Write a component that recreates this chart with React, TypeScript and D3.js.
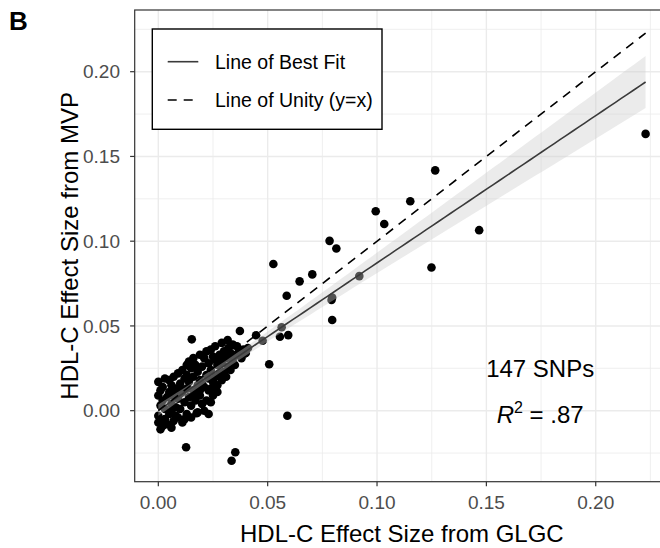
import React from "react";
import * as d3 from "d3";

// ---------- data ----------
// HDL-C effect size from GLGC (x) and MVP (y), one entry per SNP (147 SNPs)
const glgcEffect: number[] = [
  // scattered SNPs
  0.1266, 0.2228, 0.0994, 0.1152, 0.1033, 0.1467, 0.1249, 0.0919, 0.0783, 0.0814, 0.0704,
  0.0646, 0.0587, 0.0792, 0.0795, 0.0795, 0.0594, 0.0556, 0.0564, 0.0526, 0.0373, 0.0447,
  0.0477, 0.0507, 0.059, 0.023, 0.0127, 0.0352, 0.0335, 0.0153, 0.0317, 0.0343, 0.0396,
  // dense cluster
  0.0, 0.0, 0.0, 0.001, 0.001, 0.002, 0.0, 0.002, 0.003, 0.001, 0.003, 0.002,
  0.004, 0.005, 0.005, 0.006, 0.006, 0.007, 0.007, 0.008, 0.004, 0.005, 0.008, 0.006, 0.007, 0.008,
  0.009, 0.009, 0.01, 0.01, 0.011, 0.011, 0.012, 0.012, 0.013, 0.013, 0.01, 0.011, 0.012, 0.013, 0.009,
  0.014, 0.014, 0.015, 0.015, 0.016, 0.016, 0.017, 0.017, 0.018, 0.018, 0.014, 0.015, 0.016, 0.017, 0.018, 0.0175,
  0.019, 0.019, 0.02, 0.02, 0.021, 0.021, 0.022, 0.022, 0.023, 0.023, 0.019, 0.02, 0.022, 0.021, 0.023,
  0.024, 0.024, 0.025, 0.025, 0.026, 0.026, 0.027, 0.027, 0.028, 0.028, 0.024, 0.025, 0.027,
  0.029, 0.029, 0.03, 0.03, 0.031, 0.031, 0.032, 0.033, 0.033, 0.034, 0.029, 0.032,
  0.035, 0.036, 0.037, 0.038, 0.039, 0.04, 0.036, 0.041,
  0.003, 0.006, 0.01, 0.013, 0.019, 0.024, 0.028, 0.034, 0.026,
];

const mvpEffect: number[] = [
  0.1418, 0.1633, 0.1177, 0.1236, 0.1101, 0.1065, 0.0845, 0.0794, 0.1002, 0.0957, 0.0804,
  0.0763, 0.0678, 0.0653, 0.0668, 0.0535, 0.0446, 0.0436, 0.0492, 0.0865, 0.047, 0.0445,
  0.0413, 0.0274, -0.003, -0.002, -0.0216, -0.0245, -0.0295, 0.0421, 0.0417, 0.0386, 0.0338,
  0.017, 0.009, -0.007, -0.011, 0.003, 0.006, -0.003, -0.009, 0.001, 0.012, -0.005, 0.014,
  0.008, 0.011, -0.002, 0.004, 0.015, -0.006, 0.009, 0.002, -0.008, 0.018, 0.013, -0.01, 0.02, -0.003,
  0.007, 0.022, 0.016, 0.001, -0.007, 0.011, 0.019, 0.005, 0.013, -0.002, 0.01, 0.024, -0.005, 0.021, -0.004,
  0.008, 0.017, 0.025, 0.003, 0.012, 0.02, 0.027, 0.006, 0.015, -0.001, 0.029, -0.004, 0.031, 0.01, 0.023, -0.0015,
  0.009, 0.018, 0.026, 0.004, 0.014, 0.031, 0.021, 0.006, 0.028, 0.012, 0.033, 0.016, 0.035, 0.0, 0.019,
  0.024, 0.013, 0.032, 0.009, 0.02, 0.038, 0.027, 0.015, 0.033, 0.022, 0.036, 0.017, 0.011,
  0.028, 0.018, 0.035, 0.023, 0.031, 0.02, 0.026, 0.034, 0.024, 0.03, 0.04, 0.037,
  0.027, 0.033, 0.036, 0.031, 0.036, 0.034, 0.038, 0.037,
  0.019, 0.0, 0.013, 0.027, 0.012, 0.005, 0.029, 0.039, 0.03,
];

const xTicks = [0, 0.05, 0.1, 0.15, 0.2];
const yTicks = [0, 0.05, 0.1, 0.15, 0.2];
const xMinorTicks = [0.025, 0.075, 0.125, 0.175, 0.225];
const yMinorTicks = [-0.025, 0.025, 0.075, 0.125, 0.175, 0.225];
const xDomain: [number, number] = [-0.0108, 0.2335];
const yDomain: [number, number] = [-0.0419, 0.2364];

const legendLabels = ["Line of Best Fit", "Line of Unity (y=x)"];
const xTitle = "HDL-C Effect Size from GLGC";
const yTitle = "HDL-C Effect Size from MVP";
const panelTag = "B";
const snpLabel = "147 SNPs";
const r2Label = ".87";
const annotationX = 0.1746;

// ---------- layout ----------
const W = 660;
const H = 548;
const P = { left: 134.7, right: 669, top: 10, bottom: 481.7 };
const FONT = "'Liberation Sans', Arial, Helvetica, sans-serif";
const T_CRIT = 1.9765; // t(0.975, df = 145)

export default function App() {
  const x = d3.scaleLinear().domain(xDomain).range([P.left, P.right]);
  const y = d3.scaleLinear().domain(yDomain).range([P.bottom, P.top]);

  // linear regression with 95% CI (as geom_smooth(method = "lm"))
  const n = glgcEffect.length;
  const mx = d3.mean(glgcEffect)!;
  const my = d3.mean(mvpEffect)!;
  let sxx = 0, sxy = 0;
  for (let i = 0; i < n; i++) {
    sxx += (glgcEffect[i] - mx) ** 2;
    sxy += (glgcEffect[i] - mx) * (mvpEffect[i] - my);
  }
  const slope = sxy / sxx;
  const intercept = my - slope * mx;
  let sse = 0;
  for (let i = 0; i < n; i++) sse += (mvpEffect[i] - (intercept + slope * glgcEffect[i])) ** 2;
  const s = Math.sqrt(sse / (n - 2));
  const [xmin, xmax] = d3.extent(glgcEffect) as [number, number];
  const grid = d3.range(0, 81).map((i) => xmin + ((xmax - xmin) * i) / 80);
  const fitPts = grid.map((gx) => {
    const fit = intercept + slope * gx;
    const se = s * Math.sqrt(1 / n + (gx - mx) ** 2 / sxx);
    return { x: gx, fit, lo: fit - T_CRIT * se, hi: fit + T_CRIT * se };
  });

  const area = d3
    .area<{ x: number; lo: number; hi: number }>()
    .x((d) => x(d.x))
    .y0((d) => y(d.lo))
    .y1((d) => y(d.hi));
  const line = d3
    .line<{ x: number; fit: number }>()
    .x((d) => x(d.x))
    .y((d) => y(d.fit));
  const unity = d3.line<number>().x((d) => x(d)).y((d) => y(d));

  const gridColor = "#ebebeb";

  return (
    <svg
      width={W}
      height={H}
      style={{ position: "absolute", left: 0, top: 0, background: "#fff" }}
      fontFamily={FONT}
    >
      <defs>
        <clipPath id="panelClip">
          <rect x={P.left} y={P.top} width={P.right - P.left} height={P.bottom - P.top} />
        </clipPath>
      </defs>
      <rect x={0} y={0} width={W} height={H} fill="#fff" />

      <g clipPath="url(#panelClip)">
        {xMinorTicks.map((t) => (
          <line key={"xm" + t} x1={x(t)} x2={x(t)} y1={P.top} y2={P.bottom} stroke={gridColor} strokeWidth={0.8} />
        ))}
        {yMinorTicks.map((t) => (
          <line key={"ym" + t} x1={P.left} x2={P.right} y1={y(t)} y2={y(t)} stroke={gridColor} strokeWidth={0.8} />
        ))}
        {xTicks.map((t) => (
          <line key={"xg" + t} x1={x(t)} x2={x(t)} y1={P.top} y2={P.bottom} stroke={gridColor} strokeWidth={1.4} />
        ))}
        {yTicks.map((t) => (
          <line key={"yg" + t} x1={P.left} x2={P.right} y1={y(t)} y2={y(t)} stroke={gridColor} strokeWidth={1.4} />
        ))}

        {glgcEffect.map((gx, i) => (
          <circle key={"p" + i} cx={x(gx)} cy={y(mvpEffect[i])} r={4.3} fill="#000" />
        ))}

        <path d={area(fitPts) || ""} fill="#cccccc" fillOpacity={0.4} stroke="none" />
        <path d={line(fitPts) || ""} fill="none" stroke="#3a3a3a" strokeWidth={1.6} />
        <path
          d={unity([xmin, xmax]) || ""}
          fill="none"
          stroke="#000"
          strokeWidth={1.6}
          strokeDasharray="9 7"
        />
      </g>

      {/* panel border */}
      <rect
        x={P.left}
        y={P.top}
        width={P.right - P.left}
        height={P.bottom - P.top}
        fill="none"
        stroke="#333"
        strokeWidth={1.2}
      />

      {/* x axis */}
      {xTicks.map((t) => (
        <g key={"xt" + t}>
          <line x1={x(t)} x2={x(t)} y1={P.bottom} y2={P.bottom + 4.6} stroke="#333" strokeWidth={1.2} />
          <text x={x(t)} y={508.5} textAnchor="middle" fontSize={19} fill="#4d4d4d">
            {d3.format(".2f")(t)}
          </text>
        </g>
      ))}
      {/* y axis */}
      {yTicks.map((t) => (
        <g key={"yt" + t}>
          <line x1={P.left - 4.6} x2={P.left} y1={y(t)} y2={y(t)} stroke="#333" strokeWidth={1.2} />
          <text x={120} y={y(t) + 6.8} textAnchor="end" fontSize={19} fill="#4d4d4d">
            {d3.format(".2f")(t)}
          </text>
        </g>
      ))}

      <text x={(P.left + P.right) / 2} y={542} textAnchor="middle" fontSize={24} fill="#000">
        {xTitle}
      </text>
      <text
        transform={`translate(${78},${(P.top + P.bottom) / 2}) rotate(-90)`}
        textAnchor="middle"
        fontSize={24}
        fill="#000"
      >
        {yTitle}
      </text>

      {/* panel tag */}
      <text x={9} y={30} fontSize={26} fontWeight="bold" fill="#000">
        {panelTag}
      </text>

      {/* legend */}
      <rect x={152.3} y={29} width={229.7} height={100.3} fill="#fff" stroke="#000" strokeWidth={1.4} />
      <line x1={167.7} x2={198.3} y1={61.7} y2={61.7} stroke="#3a3a3a" strokeWidth={1.6} />
      <line x1={167.7} x2={198.3} y1={100} y2={100} stroke="#000" strokeWidth={1.6} strokeDasharray="9 7" />
      <text x={215} y={68.5} fontSize={19.5} fill="#000">
        {legendLabels[0]}
      </text>
      <text x={215} y={106.5} fontSize={19.5} fill="#000">
        {legendLabels[1]}
      </text>

      {/* annotation */}
      <text x={x(annotationX)} y={377} textAnchor="middle" fontSize={24} fill="#000">
        {snpLabel}
      </text>
      <text x={x(annotationX)} y={423} textAnchor="middle" fontSize={24} fill="#000">
        <tspan fontStyle="italic">R</tspan>
        <tspan fontSize={16} dy={-10}>
          2
        </tspan>
        <tspan dy={10}>{" = " + r2Label}</tspan>
      </text>
    </svg>
  );
}
